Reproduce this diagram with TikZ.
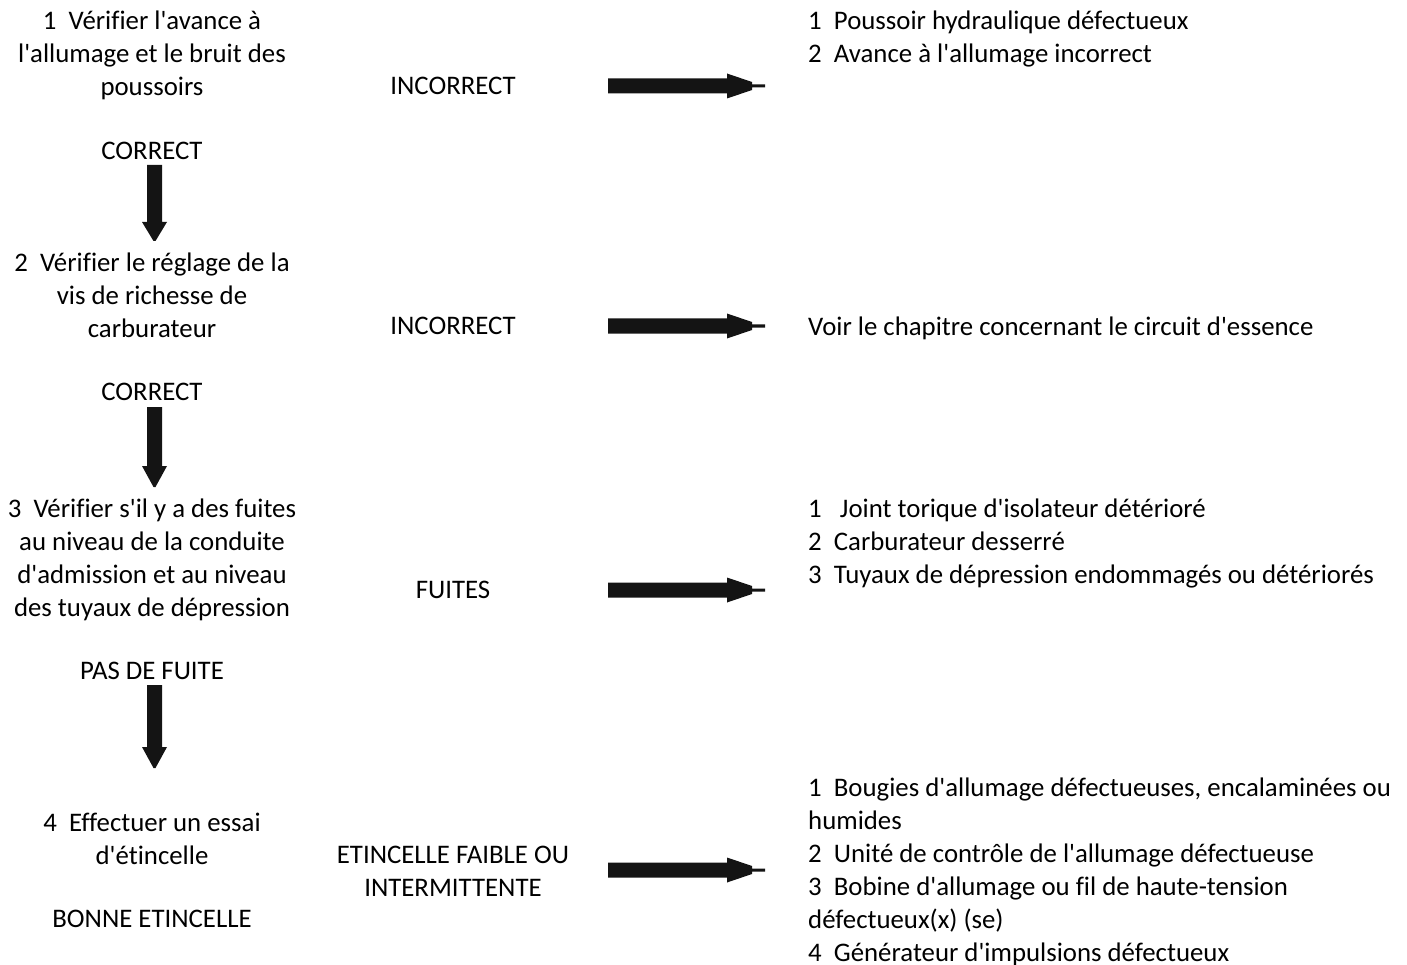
\documentclass[tikz,border=0pt]{standalone}
\usepackage{fontspec}
\setmainfont{Carlito}[Ligatures=NoCommon]
\newcommand{\sq}{\textquotesingle}
\begin{document}
\begin{tikzpicture}[x=1pt,y=-1pt,
  txt/.style={inner sep=0pt,font=\fontsize{26.8}{33}\selectfont,text=black},
  ctxt/.style={txt,align=center,anchor=north},
  ltxt/.style={txt,align=left,anchor=north west},
  harrow/.style={fill=black!92,draw=none},
  varrow/.style={fill=black!92,draw=none}]
\useasboundingbox (0,0) rectangle (1407,965);
% left column
\node[ctxt] (q1) at (152,11) {1~~Vérifier l\sq avance à\\l\sq allumage et le bruit des\\poussoirs};
\node[ctxt] (c1) at (152,142) {CORRECT};
\node[ctxt] (q2) at (152,253) {2~~Vérifier le réglage de la\\vis de richesse de\\carburateur};
\node[ctxt] (c2) at (152,383) {CORRECT};
\node[ctxt] (q3) at (152,499) {3~~Vérifier s\sq il y a des fuites\\au niveau de la conduite\\d\sq admission et au niveau\\des tuyaux de dépression};
\node[ctxt] (c3) at (152,662) {PAS DE FUITE};
\node[ctxt] (q4) at (152,813) {4~~Effectuer un essai\\d\sq étincelle};
\node[ctxt] (c4) at (152,910) {BONNE ETINCELLE};
% middle column
\node[ctxt] (m1) at (453,77) {INCORRECT};
\node[ctxt] (m2) at (453,317) {INCORRECT};
\node[ctxt] (m3) at (453,581) {FUITES};
\node[ctxt] (m4) at (453,846) {ETINCELLE FAIBLE OU\\INTERMITTENTE};
% right column
\node[ltxt] (r1) at (808,11) {1~~Poussoir hydraulique défectueux\\2~~Avance à l\sq allumage incorrect};
\node[ltxt] (r2) at (808,317) {Voir le chapitre concernant le circuit d\sq essence};
\node[ltxt] (r3) at (808,499) {1~~~Joint torique d\sq isolateur détérioré\\2~~Carburateur desserré\\3~~Tuyaux de dépression endommagés ou détériorés};
\node[ltxt] (r4) at (808,778) {1~~Bougies d\sq allumage défectueuses, encalaminées ou\\humides\\2~~Unité de contrôle de l\sq allumage défectueuse\\3~~Bobine d\sq allumage ou fil de haute-tension\\défectueux(x) (se)\\4~~Générateur d\sq impulsions défectueux};
% horizontal arrows
\foreach \n/\yy in {h1/86,h2/326,h3/590,h4/870}{
  \coordinate (\n) at (608,\yy);
  \fill[harrow] (\n) ++(0,-7.5) -- ++(119,0) -- ++(0,-5) -- ++(25,8.5) -- ++(0,2.5) -- ++(13,0) -- ++(0,3) -- ++(-13,0) -- ++(0,2.5) -- ++(-25,8.5) -- ++(0,-5) -- ++(-119,0) -- cycle;
}
% vertical arrows
\foreach \n/\ya/\yb/\yc in {v1/165/222/241,v2/407/466/487,v3/685/747/768}{
  \coordinate (\n) at (154.5,\ya);
  \fill[varrow] (154.5-7.5,\ya) -- (154.5+7.5,\ya) -- (154.5+7.5,\yb) -- (154.5+12.5,\yb) -- (154.5+1,\yc) -- (154.5-1,\yc) -- (154.5-12.5,\yb) -- (154.5-7.5,\yb) -- cycle;
}
\end{tikzpicture}
\end{document}
